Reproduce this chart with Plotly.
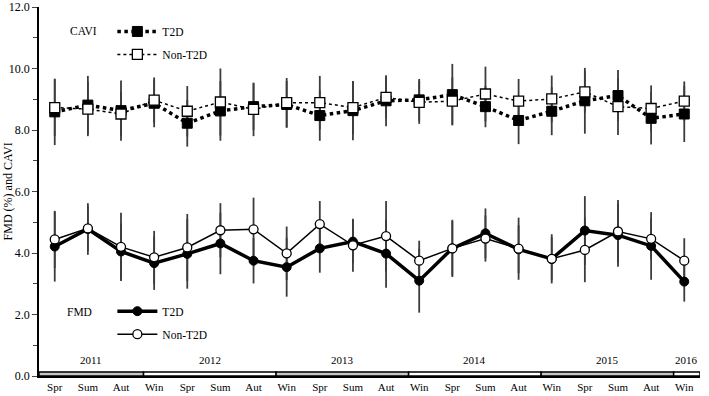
import plotly.graph_objects as go

# ---------------- data ----------------
seasons = ["Spr", "Sum", "Aut",
           "Win", "Spr", "Sum", "Aut",
           "Win", "Spr", "Sum", "Aut",
           "Win", "Spr", "Sum", "Aut",
           "Win", "Spr", "Sum", "Aut",
           "Win"]
years = ["2011", "2012", "2013", "2014", "2015", "2016"]
year_counts = [3, 4, 4, 4, 4, 1]

cavi_t2d = [8.59, 8.81, 8.63, 8.87, 8.22, 8.62, 8.76, 8.83, 8.47, 8.63,
            8.95, 8.98, 9.15, 8.76, 8.31, 8.61, 8.95, 9.12, 8.38, 8.52]
cavi_t2d_sd = [1.08, 0.95, 0.98, 0.78, 0.76, 0.97, 0.76, 0.76, 0.82, 0.96,
               0.83, 0.68, 1.00, 0.67, 0.77, 0.78, 1.07, 0.83, 0.85, 0.91]
cavi_non = [8.73, 8.68, 8.52, 8.97, 8.61, 8.91, 8.67, 8.89, 8.89, 8.73,
            9.06, 8.90, 8.94, 9.17, 8.94, 9.01, 9.24, 8.76, 8.70, 8.94]
cavi_non_sd = [0.92, 0.88, 0.72, 0.74, 0.82, 1.09, 0.87, 0.80, 0.87, 0.86,
               0.67, 0.70, 0.77, 0.89, 0.72, 0.76, 0.68, 0.92, 0.75, 0.64]

fmd_t2d = [4.21, 4.78, 4.05, 3.67, 3.97, 4.31, 3.75, 3.54, 4.15, 4.37,
           3.98, 3.10, 4.15, 4.64, 4.12, 3.81, 4.73, 4.58, 4.23, 3.07]
fmd_t2d_sd = [1.14, 0.84, 0.91, 0.87, 1.13, 1.00, 0.74, 0.96, 0.79, 0.70,
              1.11, 1.04, 0.93, 0.81, 0.78, 0.70, 1.12, 1.03, 1.10, 0.65]
fmd_non = [4.44, 4.80, 4.20, 3.86, 4.18, 4.74, 4.77, 3.99, 4.94, 4.25,
           4.55, 3.75, 4.15, 4.47, 4.14, 3.81, 4.10, 4.70, 4.46, 3.75]
fmd_non_sd = [0.93, 0.74, 1.11, 0.86, 1.09, 0.88, 1.03, 0.87, 0.75, 0.86,
              1.14, 0.65, 0.89, 0.75, 1.01, 0.80, 1.05, 1.02, 0.67, 0.73]

x = list(range(len(seasons)))
FONT = "Liberation Serif"
ERR = "#3c3c3c"

fig = go.Figure()

# error bars drawn first (behind markers)
for vals, sd in [(cavi_t2d, cavi_t2d_sd), (cavi_non, cavi_non_sd),
                 (fmd_t2d, fmd_t2d_sd), (fmd_non, fmd_non_sd)]:
    fig.add_trace(go.Scatter(
        x=x, y=vals, mode="markers", marker=dict(size=1, opacity=0),
        error_y=dict(type="data", array=sd, color=ERR, thickness=1.8, width=0),
        showlegend=False, hoverinfo="skip"))

fig.add_trace(go.Scatter(
    x=x, y=cavi_t2d, name="T2D", mode="lines+markers", legend="legend",
    legendgroup="c1",
    line=dict(color="black", width=3.5, dash="dot"),
    marker=dict(symbol="square", size=10, color="black",
                line=dict(color="black", width=1))))
fig.add_trace(go.Scatter(
    x=x, y=cavi_non, name="Non-T2D", mode="lines+markers", legend="legend",
    legendgroup="c2",
    line=dict(color="black", width=1.5, dash="dot"),
    marker=dict(symbol="square", size=10, color="white",
                line=dict(color="black", width=1.3))))
fig.add_trace(go.Scatter(
    x=x, y=fmd_t2d, name="T2D", mode="lines+markers", legend="legend2",
    legendgroup="f1",
    line=dict(color="black", width=3.5),
    marker=dict(symbol="circle", size=9, color="black",
                line=dict(color="black", width=1))))
fig.add_trace(go.Scatter(
    x=x, y=fmd_non, name="Non-T2D", mode="lines+markers", legend="legend2",
    legendgroup="f2",
    line=dict(color="black", width=1.5),
    marker=dict(symbol="circle", size=9, color="white",
                line=dict(color="black", width=1.3))))

# year band along the x axis
shapes = []
annotations = []
x_left, x_right = -0.475, 19.475
start = x_left
idx = 0
for k, (yr, cnt) in enumerate(zip(years, year_counts)):
    idx += cnt
    end = (idx - 1 + 0.68) if k < len(years) - 1 else x_right
    shapes.append(dict(type="rect", xref="x", yref="y", x0=start, x1=end,
                       y0=0, y1=0.13,
                       fillcolor="#c8c8c8" if k % 2 == 0 else "white",
                       line=dict(color="black", width=1.5), layer="above"))
    annotations.append(dict(x=(start + end) / 2, y=0.52, xref="x", yref="y",
                            text=yr, showarrow=False,
                            font=dict(family=FONT, size=11, color="black")))
    start = end

annotations.append(dict(x=-0.047, y=0.5, xref="paper", yref="paper",
                        text="FMD (%) and CAVI", textangle=-90,
                        showarrow=False, xanchor="center", yanchor="middle",
                        font=dict(family=FONT, size=12, color="black")))
for label, ax, ay in [("CAVI", 0.0666, 0.935), ("FMD", 0.062, 0.174)]:
    annotations.append(dict(x=ax, y=ay, xref="paper", yref="paper", text=label,
                            showarrow=False, xanchor="center", yanchor="middle",
                            font=dict(family=FONT, size=11.5, color="black")))

legend_common = dict(
    font=dict(family=FONT, size=11.5, color="black"),
    bgcolor="rgba(0,0,0,0)", borderwidth=0, itemwidth=40,
    traceorder="grouped", tracegroupgap=4, xanchor="left", yanchor="top",
)

fig.update_layout(
    width=709, height=396,
    margin=dict(l=39, r=9, t=7, b=20, autoexpand=False),
    plot_bgcolor="white", paper_bgcolor="white",
    font=dict(family=FONT, size=12, color="black"),
    showlegend=True,
    legend=dict(**legend_common, x=0.111, y=0.973),
    legend2=dict(**legend_common, x=0.111, y=0.215),
    xaxis=dict(range=[x_left, x_right], tickvals=x, ticktext=seasons,
               showgrid=False, zeroline=False, showline=True,
               linecolor="black", linewidth=1.5, ticks="", ticklen=0,
               automargin=False,
               tickfont=dict(family=FONT, size=11, color="black")),
    yaxis=dict(range=[0, 12], tickvals=[0, 2, 4, 6, 8, 10, 12],
               tickformat=".1f", showgrid=False, zeroline=False,
               showline=True, linecolor="black", linewidth=1.5,
               ticks="outside", ticklen=5, tickwidth=1.2, automargin=False,
               minor=dict(tickvals=[1, 3, 5, 7, 9, 11], ticks="outside",
                          ticklen=4, tickwidth=1.2, showgrid=False),
               tickfont=dict(family=FONT, size=12, color="black")),
    shapes=shapes, annotations=annotations,
)

fig.write_html("out.html", config={"displayModeBar": False},
               post_script="document.body.style.margin='0px';")
